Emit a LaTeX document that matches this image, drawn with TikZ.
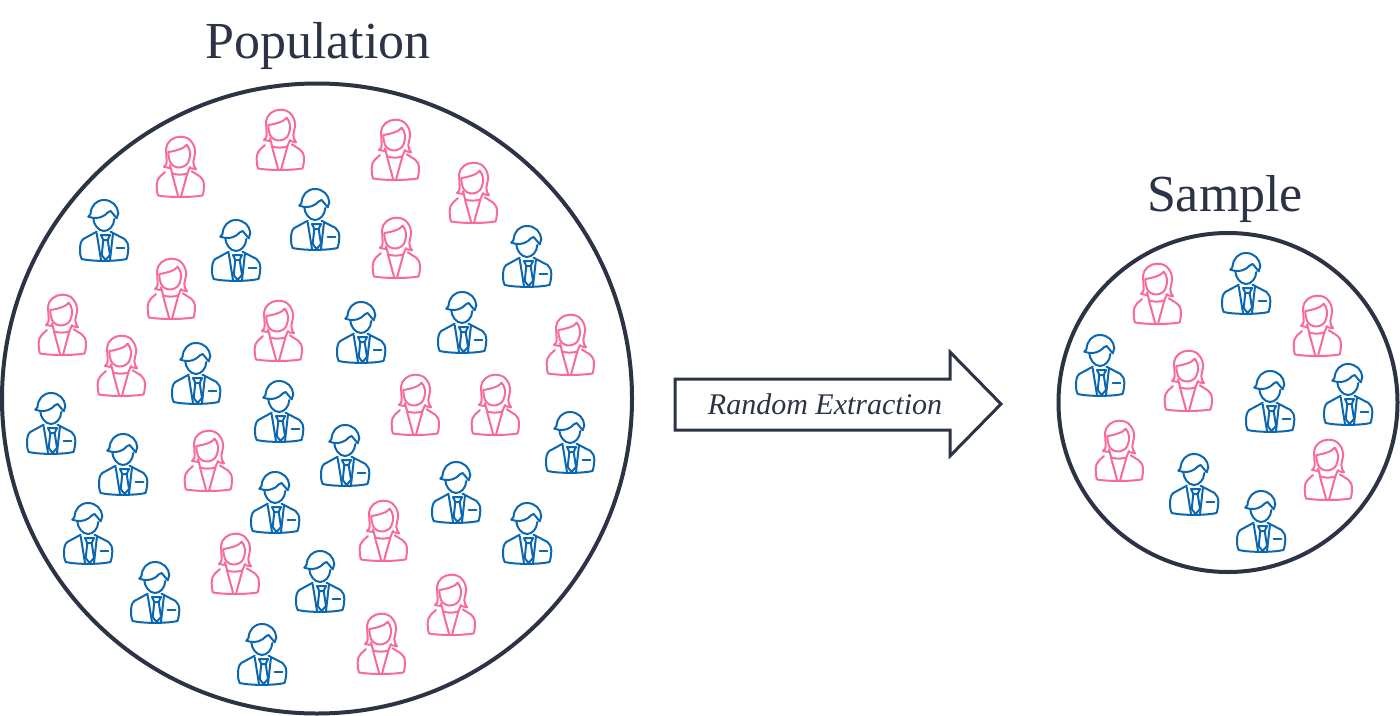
\documentclass[tikz,border=0pt]{standalone}
\usepackage{fontspec}
\setmainfont{Liberation Serif}
\usetikzlibrary{calc}

\definecolor{inkdark}{HTML}{2B3345}
\definecolor{manblue}{HTML}{0B67B0}
\definecolor{womanpink}{HTML}{F76A9B}

\tikzset{
  bigcircle/.style={circle,draw=inkdark,line width=4pt,inner sep=0pt},
  titletext/.style={text=inkdark,anchor=base,font=\fontsize{52}{60}\selectfont},
  arrowtext/.style={text=inkdark,font=\fontsize{30}{36}\selectfont\itshape},
  figline/.style={line width=2pt,line join=round,line cap=round},
  man/.pic={
    \begin{scope}[figline,draw=manblue]
      %% head and hair
      \draw (-10.7,-12.7) .. controls (-10.5,-7) and (-6,0) .. (0,0) .. controls (5,0) and (10,-5) .. (10.3,-12);
      \draw (-15.7,-14.3) -- (-13.5,-17) .. controls (-13,-25) and (-8,-31) .. (0,-31) .. controls (8,-31) and (14,-25) .. (14.3,-17.7) -- (12.7,-12.7);
      \draw (-15.7,-14.3) .. controls (-10,-12.5) and (-5,-12) .. (1,-16) .. controls (3,-18) and (5,-20) .. (6.7,-20) -- (12.7,-12.7);
      %% jacket
      \draw (-7.3,0.7) -- (-20.7,8) .. controls (-23.5,10) and (-24,15) .. (-24,19) .. controls (-24,23) and (-23.5,26) .. (-22.3,28)
        .. controls (-12,30.5) and (12,30.5) .. (22.5,28) .. controls (23.5,25) and (24.3,21) .. (24.3,17)
        .. controls (24.3,13) and (23,10) .. (20.5,8) -- (6.5,0.7);
      \draw (-7.3,2.3) -- (-3,29);
      \draw (9,2.3) -- (6,29);
      %% tie and pocket
      \draw (-3,4) -- (6,4) -- (3.7,9) -- (-0.7,9) -- cycle;
      \draw (-0.7,9) -- (-2.3,24) -- (1.5,29) -- (6,24) -- (3.7,9);
      \draw (12.7,16.7) -- (20.3,16.7);
    \end{scope}
  },
  woman/.pic={
    \begin{scope}[figline,draw=womanpink]
      %% hair
      \draw (-10,1) -- (-16,0) .. controls (-14,-2) and (-13.3,-3) .. (-13.3,-5) -- (-14,-18.3)
        .. controls (-13.5,-25) and (-7,-30.3) .. (0,-30.3) .. controls (5,-30.3) and (9,-29) .. (11.7,-25)
        .. controls (14,-22) and (15.5,-18) .. (15,-13.3) .. controls (14.8,-10) and (13.3,-8) .. (13.3,-5)
        .. controls (13.3,-2) and (14.5,0) .. (16,2.3) -- (10,1);
      %% face and fringe
      \draw (-11.7,-15) .. controls (-11.7,-11) and (-11,-8) .. (-10,-5) .. controls (-8,-1) and (-4,0.5) .. (-1,0.5)
        .. controls (3,0.5) and (7,-2) .. (8.3,-5) .. controls (9.5,-8) and (10.3,-11) .. (10,-15)
        .. controls (9.5,-18) and (8,-21) .. (6.7,-22.3) .. controls (5,-19) and (-4,-16) .. (-11.7,-15);
      %% collar and body
      \draw (-10,-1.7) -- (-7.8,6.5) .. controls (-4,8) and (3,8) .. (7.3,6.5) -- (10,0);
      \draw (-15,5) -- (-20,9.5) .. controls (-22.5,12) and (-23.3,15) .. (-23.3,18) .. controls (-23.3,22) and (-23,26) .. (-22,28.5)
        .. controls (-10,30.5) and (10,30.5) .. (22.5,28.5) .. controls (23.5,26) and (24,22) .. (24,18)
        .. controls (24,14) and (22,11) .. (20,9.5) -- (11.7,4.3);
      \draw (-8,6.7) -- (-1.7,29.7);
      \draw (7.3,6.7) -- (1,29.7);
    \end{scope}
  }
}

\begin{document}
\begin{tikzpicture}[x=1pt,y=-1pt]
  \useasboundingbox (0,0) rectangle (1400,715);

  %% The two circles and their titles
  \node[bigcircle,minimum size=630pt] (POP) at (317,398.5) {};
  \node[bigcircle,minimum size=339pt] (SAMPLE) at (1228,402.5) {};
  \node[titletext] (POPLABEL) at (318,58) {Population};
  \node[titletext] (SAMPLELABEL) at (1225,211.5) {Sample};

  %% People of the population
  \foreach \x/\y [count=\n] in {180/167,280/140,395/150,473/193,396/248,171/289,
    62/325,121/366,278/331,570/345,415/405,495/405,208/461,383/531,235/564,451/605,381/644}
  {
    \pic (PW\n) at (\x,\y) {woman};
  }
  \foreach \x/\y [count=\n] in {104/231,236/251,315/220,527/257,361/333,462/323,196/374,
    51/424,279/412,123/465,570/443,345/456,275/503,456/493,88/534,527/534,155/593,320/582,262/655}
  {
    \pic (PM\n) at (\x,\y) {man};
  }

  %% People of the sample
  \foreach \x/\y [count=\n] in {1157/294,1317/326,1188/381,1119/451,1328/470}
  {
    \pic (SW\n) at (\x,\y) {woman};
  }
  \foreach \x/\y [count=\n] in {1246/284,1100/366,1270/402,1348/395,1194/485,1261/522}
  {
    \pic (SM\n) at (\x,\y) {man};
  }

  %% Block arrow with its text
  \draw[draw=inkdark,line width=3pt,miter limit=10]
    (675,379) -- (950,379) -- (950,352) -- (1001,404) -- (950,456) -- (950,430) -- (675,430) -- cycle;
  \node[arrowtext] (EXTRACT) at (825,404.5) {Random Extraction};
\end{tikzpicture}
\end{document}
